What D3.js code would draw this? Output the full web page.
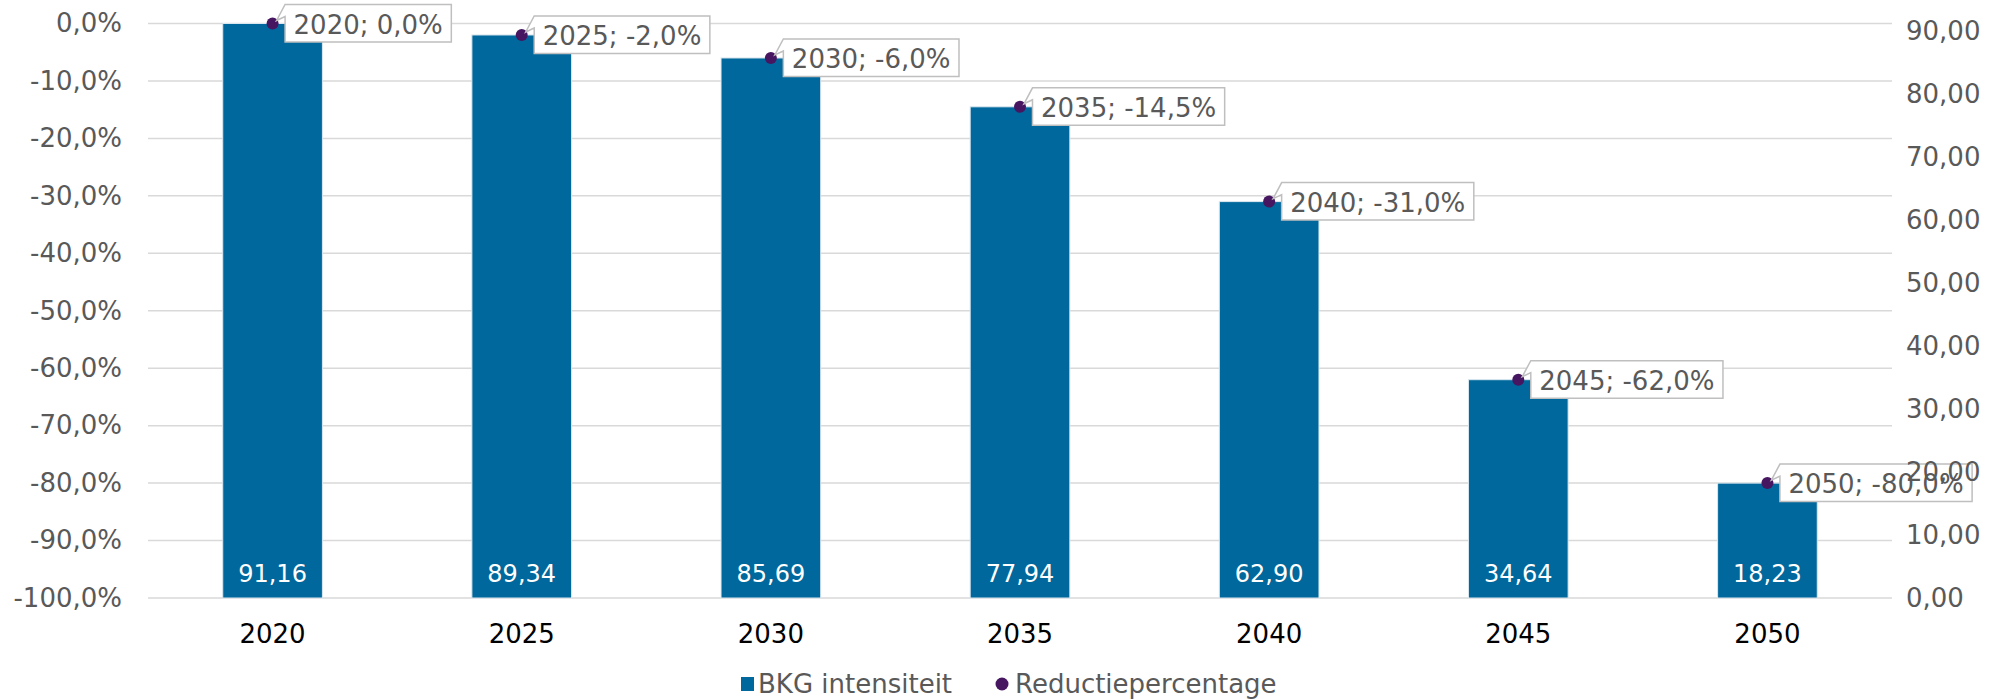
<!DOCTYPE html>
<html>
<head>
<meta charset="utf-8">
<script src="https://cdn.jsdelivr.net/npm/d3@7"></script>
<style>
  html, body { margin: 0; padding: 0; background: #ffffff; }
  svg { display: block; }
  text { font-family: Verdana, "DejaVu Sans", sans-serif; }
</style>
</head>
<body>
<svg id="chart" width="2015" height="699"></svg>
<script>
// ---- data ----
const years = ["2020", "2025", "2030", "2035", "2040", "2045", "2050"];
const intensity = [91.16, 89.34, 85.69, 77.94, 62.90, 34.64, 18.23];      // BKG intensiteit (right axis)
const reduction = [0.0, -2.0, -6.0, -14.5, -31.0, -62.0, -80.0];           // Reductiepercentage (left axis, %)
const leftTicks = [0, -10, -20, -30, -40, -50, -60, -70, -80, -90, -100];
const rightTicks = [0, 10, 20, 30, 40, 50, 60, 70, 80, 90];
const legendLabels = ["BKG intensiteit", "Reductiepercentage"];

// ---- styling ----
const barColor = "#00689c";
const dotColor = "#461660";
const gridColor = "#d9d9d9";
const textGray = "#595959";
const fontSize = 26;

const locale = d3.formatLocale({ decimal: ",", thousands: ".", grouping: [3], currency: ["€", ""], minus: "-" });
const fmt1 = locale.format(".1f");
const fmt2 = locale.format(".2f");

const svg = d3.select("#chart");
const plotLeft = 148, plotRight = 1892, plotTop = 23.5, plotBottom = 598;

const x = d3.scaleBand().domain(years).range([plotLeft, plotRight]).paddingInner(0.6).paddingOuter(0.3);
const yLeft = d3.scaleLinear().domain([-100, 0]).range([plotBottom, plotTop]);
const yRight = d3.scaleLinear().domain([0, d3.max(intensity)]).range([plotBottom, plotTop]);

// gridlines
const grid = svg.append("g");
grid.selectAll("line").data(leftTicks).join("line")
  .attr("x1", plotLeft).attr("x2", plotRight)
  .attr("y1", d => yLeft(d)).attr("y2", d => yLeft(d))
  .attr("stroke", gridColor).attr("stroke-width", 1.5);

// left axis
const leftAxis = d3.axisLeft(yLeft).tickValues(leftTicks).tickSize(0).tickPadding(0)
  .tickFormat(d => fmt1(d) + "%");
const gL = svg.append("g").attr("transform", `translate(122,0)`).call(leftAxis);
gL.select(".domain").remove();
gL.selectAll("text").attr("font-size", fontSize).attr("fill", textGray)
  .attr("font-family", "Verdana, 'DejaVu Sans', sans-serif");

// bars
const data = years.map((y, i) => ({ year: y, value: intensity[i], pct: reduction[i] }));
svg.append("g").selectAll("rect").data(data).join("rect")
  .attr("x", d => x(d.year)).attr("width", x.bandwidth())
  .attr("y", d => yRight(d.value)).attr("height", d => yRight(0) - yRight(d.value))
  .attr("fill", barColor).attr("stroke", "#dbe7ef").attr("stroke-width", 1);

// bar value labels
svg.append("g").selectAll("text").data(data).join("text")
  .attr("x", d => x(d.year) + x.bandwidth() / 2)
  .attr("y", yRight(0) - 24)
  .attr("text-anchor", "middle").attr("dominant-baseline", "central")
  .attr("font-size", 24).attr("fill", "#ffffff")
  .text(d => fmt2(d.value));

// category axis
const bottomAxis = d3.axisBottom(x).tickSize(0).tickPadding(0);
const gB = svg.append("g").attr("transform", `translate(0,${plotBottom})`).call(bottomAxis);
gB.select(".domain").remove();
gB.selectAll("text").attr("font-size", fontSize).attr("fill", "#000000")
  .attr("dy", null).attr("y", 36).attr("dominant-baseline", "central")
  .attr("font-family", "Verdana, 'DejaVu Sans', sans-serif");

// dots
svg.append("g").selectAll("circle").data(data).join("circle")
  .attr("cx", d => x(d.year) + x.bandwidth() / 2)
  .attr("cy", d => yLeft(d.pct))
  .attr("r", 6).attr("fill", dotColor);

// data label callouts (drawn over the dots, tip reaching into the dot)
const labels = svg.append("g");
data.forEach(d => {
  const cx = x(d.year) + x.bandwidth() / 2;
  const cy = yLeft(d.pct);
  const g = labels.append("g");
  const path = g.append("path");
  const t = g.append("text")
    .attr("font-size", fontSize).attr("fill", textGray)
    .attr("dominant-baseline", "central")
    .text(d.year + "; " + fmt1(d.pct) + "%");
  const tw = t.node().getComputedTextLength();
  const x0 = cx + 12.5, h = 37.5, y0 = cy - 19, w = tw + 17;
  t.attr("x", x0 + 8.5).attr("y", cy + 1);
  const tipX = cx + 4, tipY = cy - 3;
  path.attr("d", `M${x0},${y0} L${x0 + w},${y0} L${x0 + w},${y0 + h} L${x0},${y0 + h} L${x0},${y0 + 12} L${tipX},${tipY} Z`)
    .attr("fill", "#ffffff").attr("stroke", "#bfbfbf").attr("stroke-width", 1.5)
    .attr("stroke-linejoin", "miter");
});

// right axis
const rightAxis = d3.axisRight(yRight).tickValues(rightTicks).tickSize(0).tickPadding(0)
  .tickFormat(d => fmt2(d));
const gR = svg.append("g").attr("transform", `translate(1906,0)`).call(rightAxis);
gR.select(".domain").remove();
gR.selectAll("text").attr("font-size", fontSize).attr("fill", textGray)
  .attr("font-family", "Verdana, 'DejaVu Sans', sans-serif");

// legend
const leg = svg.append("g");
leg.append("rect").attr("x", 741).attr("y", 677).attr("width", 13).attr("height", 14).attr("fill", barColor);
leg.append("text").attr("x", 758).attr("y", 684).attr("dominant-baseline", "central")
  .attr("font-size", fontSize).attr("fill", textGray).text(legendLabels[0]);
leg.append("circle").attr("cx", 1002).attr("cy", 684).attr("r", 6.5).attr("fill", dotColor);
leg.append("text").attr("x", 1015).attr("y", 684).attr("dominant-baseline", "central")
  .attr("font-size", fontSize).attr("fill", textGray).text(legendLabels[1]);
</script>
</body>
</html>
